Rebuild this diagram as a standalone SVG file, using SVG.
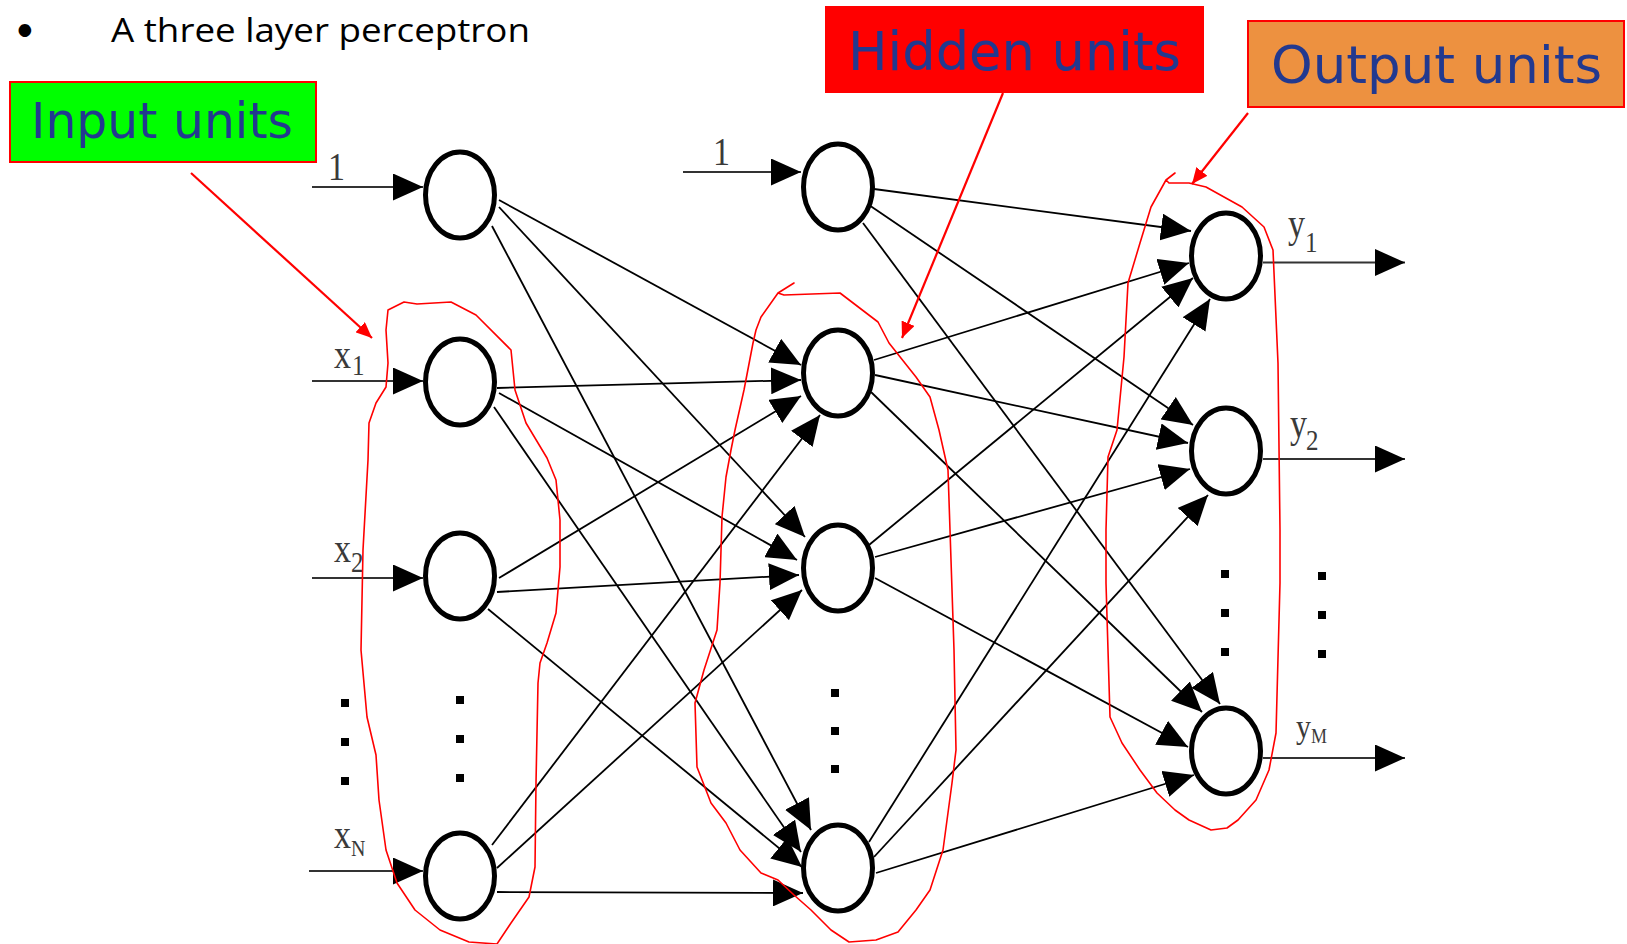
<svg xmlns="http://www.w3.org/2000/svg" width="1627" height="944" viewBox="0 0 1627 944">
  <style>
    .node { fill: #ffffff; stroke: #000000; stroke-width: 5; }
    .edge { stroke: #000000; stroke-width: 1.8; fill: none; marker-end: url(#ah); }
    .io { stroke: #333333; stroke-width: 2; fill: none; marker-end: url(#ah); }
    .lbl { font-family: "Liberation Serif", "Times New Roman", serif; fill: #3a3a3a; }
    .dot { fill: #000000; }
    .tag { font-family: "DejaVu Sans", Verdana, sans-serif; fill: #22398f; }
    .ink { fill: none; stroke: #ff0000; stroke-width: 1.6; stroke-linejoin: round; stroke-linecap: round; }
    .pointer { fill: none; stroke: #ff0000; stroke-width: 2.2; marker-end: url(#rh); }
  </style>
  <defs>
    <marker id="ah" markerUnits="userSpaceOnUse" markerWidth="30" markerHeight="27" viewBox="0 0 30 27" refX="30" refY="13.5" orient="auto">
      <path d="M0,0 L30,13.5 L0,27 Z" fill="#000000"/>
    </marker>
    <marker id="rh" markerUnits="userSpaceOnUse" markerWidth="16" markerHeight="14" viewBox="0 0 16 14" refX="16" refY="7" orient="auto">
      <path d="M0,0 L16,7 L0,14 Z" fill="#ff0000"/>
    </marker>
  </defs>

  <rect width="1627" height="944" fill="#ffffff"/>

  <!-- heading -->
  <g id="title">
    <text x="15" y="41" font-family="Lato, 'Open Sans', sans-serif" font-size="34" fill="#000000">•</text>
    <text x="111" y="41.5" font-family="'Open Sans', Lato, sans-serif" font-size="33" fill="#000000" textLength="419" lengthAdjust="spacingAndGlyphs">A three layer perceptron</text>
  </g>

  <!-- weighted connections between layers -->
  <g id="connectors">
    <!-- input layer to hidden layer -->
    <line class="edge" x1="499" y1="200" x2="801" y2="365"/>
    <line class="edge" x1="499" y1="207" x2="805" y2="537"/>
    <line class="edge" x1="492" y1="226" x2="811" y2="830"/>
    <line class="edge" x1="497" y1="388" x2="801" y2="380"/>
    <line class="edge" x1="499" y1="393" x2="797" y2="560"/>
    <line class="edge" x1="494" y1="407" x2="801" y2="852"/>
    <line class="edge" x1="499" y1="578" x2="801" y2="396"/>
    <line class="edge" x1="497" y1="592" x2="799" y2="575"/>
    <line class="edge" x1="488" y1="609" x2="802" y2="867"/>
    <line class="edge" x1="492" y1="845" x2="820" y2="415"/>
    <line class="edge" x1="497" y1="868" x2="802" y2="590"/>
    <line class="edge" x1="497" y1="892" x2="803" y2="893"/>
    <!-- hidden layer to output layer -->
    <line class="edge" x1="874" y1="189" x2="1191" y2="231"/>
    <line class="edge" x1="869" y1="205" x2="1193" y2="425"/>
    <line class="edge" x1="863" y1="223" x2="1220" y2="704"/>
    <line class="edge" x1="874" y1="360" x2="1189" y2="263"/>
    <line class="edge" x1="875" y1="375" x2="1188" y2="443"/>
    <line class="edge" x1="871" y1="392" x2="1202" y2="712"/>
    <line class="edge" x1="869" y1="545" x2="1193" y2="278"/>
    <line class="edge" x1="875" y1="557" x2="1190" y2="469"/>
    <line class="edge" x1="875" y1="578" x2="1188" y2="747"/>
    <line class="edge" x1="869" y1="842" x2="1210" y2="299"/>
    <line class="edge" x1="874" y1="857" x2="1208" y2="495"/>
    <line class="edge" x1="876" y1="873" x2="1194" y2="775"/>
    <!-- external inputs, bias and outputs -->
    <line class="io" x1="312" y1="187" x2="423" y2="187"/>
    <line class="io" x1="312" y1="381" x2="423" y2="381"/>
    <line class="io" x1="312" y1="578" x2="423" y2="578"/>
    <line class="io" x1="309" y1="871" x2="423" y2="871"/>
    <line class="io" x1="683" y1="172" x2="801" y2="172"/>
    <line class="io" x1="1263" y1="262.5" x2="1405" y2="262.5"/>
    <line class="io" x1="1263" y1="459" x2="1405" y2="459"/>
    <line class="io" x1="1263" y1="758" x2="1405" y2="758"/>
  </g>

  <!-- input layer -->
  <g id="in-bias"><ellipse class="node" cx="460" cy="195" rx="34.5" ry="43"/></g>
  <g id="in-x1"><ellipse class="node" cx="460" cy="382" rx="34.5" ry="43"/></g>
  <g id="in-x2"><ellipse class="node" cx="460" cy="576" rx="34.5" ry="43"/></g>
  <g id="in-xN"><ellipse class="node" cx="460" cy="876" rx="34.5" ry="43"/></g>

  <!-- hidden layer -->
  <g id="hid-bias"><ellipse class="node" cx="838" cy="187" rx="34.5" ry="43"/></g>
  <g id="hid-2"><ellipse class="node" cx="838" cy="373" rx="34.5" ry="43"/></g>
  <g id="hid-3"><ellipse class="node" cx="838" cy="568" rx="34.5" ry="43"/></g>
  <g id="hid-4"><ellipse class="node" cx="838" cy="868" rx="34.5" ry="43"/></g>

  <!-- output layer -->
  <g id="out-y1"><ellipse class="node" cx="1226" cy="256" rx="34.5" ry="43"/></g>
  <g id="out-y2"><ellipse class="node" cx="1226" cy="451" rx="34.5" ry="43"/></g>
  <g id="out-yM"><ellipse class="node" cx="1226" cy="751" rx="34.5" ry="43"/></g>

  <!-- ellipsis dots -->
  <g id="ellipses">
    <rect class="dot" x="341" y="699" width="8" height="8"/>
    <rect class="dot" x="341" y="738" width="8" height="8"/>
    <rect class="dot" x="341" y="777" width="8" height="8"/>
    <rect class="dot" x="456" y="696" width="8" height="8"/>
    <rect class="dot" x="456" y="735" width="8" height="8"/>
    <rect class="dot" x="456" y="774" width="8" height="8"/>
    <rect class="dot" x="831" y="689" width="8" height="8"/>
    <rect class="dot" x="831" y="727" width="8" height="8"/>
    <rect class="dot" x="831" y="765" width="8" height="8"/>
    <rect class="dot" x="1221" y="570" width="8" height="8"/>
    <rect class="dot" x="1221" y="609" width="8" height="8"/>
    <rect class="dot" x="1221" y="648" width="8" height="8"/>
    <rect class="dot" x="1318" y="572" width="8" height="8"/>
    <rect class="dot" x="1318" y="611" width="8" height="8"/>
    <rect class="dot" x="1318" y="650" width="8" height="8"/>
  </g>

  <!-- unit labels -->
  <g id="labels" class="lbl">
    <text transform="translate(328,180) scale(1,1.18)" font-size="34">1</text>
    <text transform="translate(334,368) scale(1,1.18)" font-size="34">x</text>
    <text transform="translate(352,375) scale(1,1.18)" font-size="25">1</text>
    <text transform="translate(334,562) scale(1,1.18)" font-size="34">x</text>
    <text transform="translate(351,572) scale(1,1.18)" font-size="25">2</text>
    <text transform="translate(334,848) scale(1,1.18)" font-size="34">x</text>
    <text transform="translate(351,856) scale(1,1.18)" font-size="20">N</text>
    <text transform="translate(713,165) scale(1,1.18)" font-size="34">1</text>
    <text transform="translate(1288,237) scale(1,1.18)" font-size="34">y</text>
    <text transform="translate(1305,252) scale(1,1.18)" font-size="25">1</text>
    <text transform="translate(1290,437) scale(1,1.18)" font-size="34">y</text>
    <text transform="translate(1306,450) scale(1,1.18)" font-size="25">2</text>
    <text transform="translate(1296,738) scale(1,1.1)" font-size="30">y</text>
    <text transform="translate(1311,743) scale(1,1.18)" font-size="18">M</text>
  </g>

  <!-- layer callouts -->
  <g id="tag-input">
    <rect x="10" y="82" width="306" height="80" fill="#00ff00" stroke="#ff0000" stroke-width="2"/>
    <text class="tag" x="31" y="138" font-size="49" textLength="262" lengthAdjust="spacingAndGlyphs">Input units</text>
  </g>
  <g id="tag-hidden">
    <rect x="825" y="6" width="379" height="87" fill="#ff0000"/>
    <text class="tag" x="848" y="70" font-size="53" textLength="333" lengthAdjust="spacingAndGlyphs">Hidden units</text>
  </g>
  <g id="tag-output">
    <rect x="1248" y="21" width="376" height="86" fill="#ed9140" stroke="#ff0000" stroke-width="2"/>
    <text class="tag" x="1271" y="83" font-size="52" textLength="331" lengthAdjust="spacingAndGlyphs">Output units</text>
  </g>

  <!-- hand-drawn pointers and outlines -->
  <g id="annotations">
    <line class="pointer" x1="191" y1="173" x2="372" y2="338"/>
    <line class="pointer" x1="1003" y1="93" x2="902" y2="338"/>
    <line class="pointer" x1="1248" y1="113" x2="1192" y2="184"/>
    <path class="ink" d="M497,944 L469,942 L440,930 L415,910 L397,883 L386,850 L379,800 L376,755 L367,717 L361,650 L363,550 L368,460 L369,423 L376,403 L386,387 L388,363 L386,330 L388,310 L404,302 L417,304 L451,302 L476,315 L511,350 L515,390 L526,423 L547,458 L556,480 L560,520 L560,567 L556,613 L547,643 L540,663 L538,683 L536,783 L535,867 L529,897 L511,923 Z"/>
    <path class="ink" d="M794,283 L778,293 L784,295 L840,293 L878,322 L889,343 L916,377 L930,397 L939,430 L948,470 L950,530 L954,650 L956,750 L952,783 L943,850 L930,890 L916,910 L898,932 L876,940 L849,942 L831,930 L811,910 L794,895 L778,880 L761,873 L740,850 L726,823 L711,803 L697,767 L695,703 L704,670 L717,630 L720,583 L722,517 L726,477 L731,450 L735,430 L744,390 L753,343 L756,330 L761,317 L778,293"/>
    <path class="ink" d="M1175,173 L1166,180 L1169,183 L1189,183 L1206,187 L1242,207 L1264,227 L1273,250 L1278,363 L1280,530 L1280,583 L1276,733 L1269,770 L1256,800 L1238,820 L1227,828 L1211,830 L1189,820 L1175,810 L1157,793 L1140,770 L1122,743 L1110,717 L1106,583 L1106,530 L1108,457 L1117,430 L1124,357 L1128,283 L1140,243 L1151,207 L1166,180"/>
  </g>
</svg>
